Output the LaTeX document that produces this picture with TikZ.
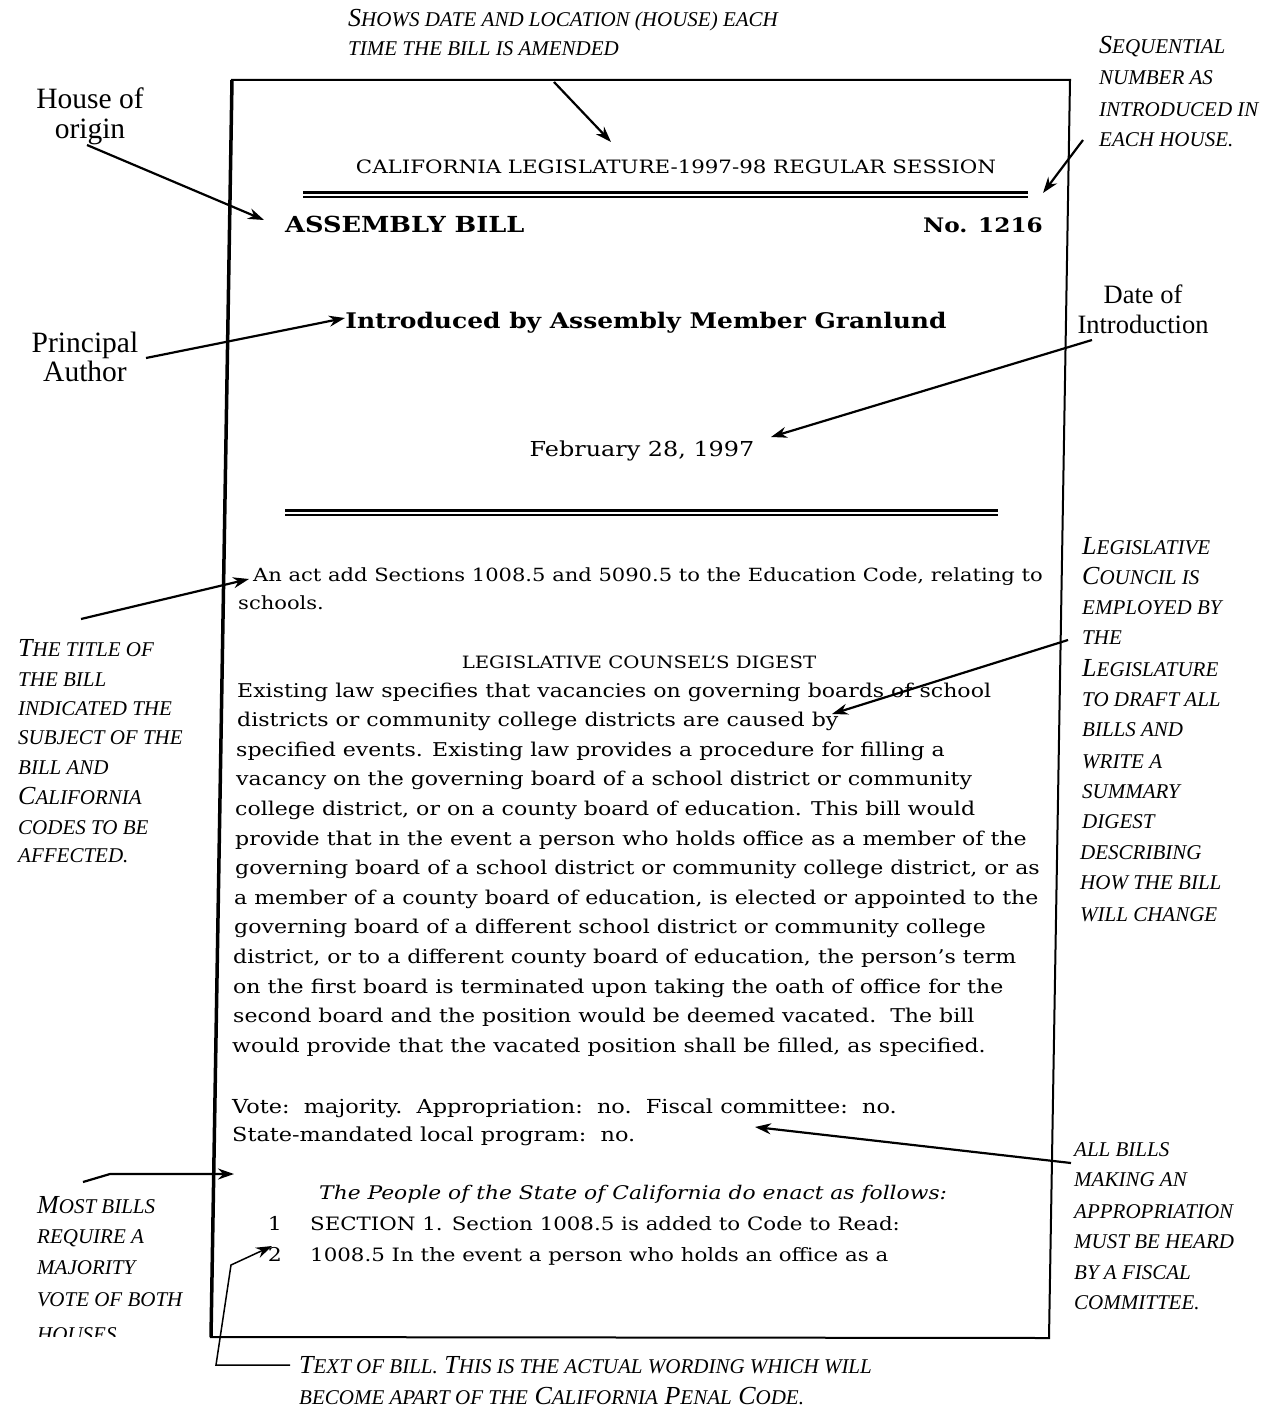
\documentclass[tikz,border=0pt]{standalone}
\usepackage{fontspec}
\setmainfont{DejaVu Serif}[FakeStretch=1.16]
\newfontfamily\labelfont{Liberation Serif}
\usetikzlibrary{arrows.meta}

% lowered capitals for the notes
\newcommand\lc[1]{{\fontsize{21}{21}\selectfont\MakeUppercase{#1}}}

\tikzset{
	note/.style={font=\labelfont\itshape\fontsize{26}{30}\selectfont, anchor=base west, inner sep=0pt},
	tag/.style={font=\labelfont\fontsize{29.5}{30}\selectfont, anchor=base, inner sep=0pt},
	bill/.style={font=\fontsize{19}{24}\selectfont, anchor=base west, inner sep=0pt},
	pointer/.style={-{Stealth[length=16pt,width=11pt]}, line width=2.2pt},
}

\begin{document}
\begin{tikzpicture}[x=1pt,y=-1pt]
	\useasboundingbox[fill=white] (0,0) rectangle (1266,1412);

	% the page of the bill
	\draw[line width=2pt] (232,80) -- (1070,80) -- (1049,1338) -- (211,1337) -- cycle;
	\draw[line width=3.5pt] (232,80) -- (211,1337);
	\node[bill, anchor=base, font=\fontsize{18.4}{22}\selectfont] (session) at (676,174) {CALIFORNIA LEGISLATURE-1997-98 REGULAR SESSION};
	\draw[line width=3pt] (303,193) -- (1028,193);
	\draw[line width=2pt] (303,197.5) -- (1028,197.5);
	\node[bill, font=\bfseries\fontsize{22.1}{26}\selectfont] (assembly) at (285,233) {ASSEMBLY BILL};
	\node[bill, anchor=base east, font=\bfseries\fontsize{20}{26}\selectfont] (number) at (1043,233) {No. 1216};
	\node[bill, anchor=base, font=\bfseries\fontsize{21.5}{26}\selectfont] (author) at (646,328) {Introduced by Assembly Member Granlund};
	\node[bill, anchor=base, font=\fontsize{20.6}{26}\selectfont] (introdate) at (642,456) {February 28, 1997};
	\draw[line width=3pt] (285,510) -- (998,510);
	\draw[line width=2pt] (285,514.5) -- (998,514.5);
	\node[bill, font=\fontsize{18.15}{24}\selectfont] (act1) at (253,581) {An act add Sections 1008.5 and 5090.5 to the Education Code, relating to};
	\node[bill, font=\fontsize{18.15}{24}\selectfont] (act2) at (238,609) {schools.};
	\node[bill, anchor=base, font=\fontsize{17}{20}\selectfont] (digest) at (639,668) {LEGISLATIVE COUNSEL’S DIGEST};
	\node[bill] (law1) at (237,697) {Existing law specifies that vacancies on governing boards of school};
	\node[bill] (law2) at (237,726.6) {districts or community college districts are caused by};
	\node[bill] (law3) at (236,756.2) {specified events. Existing law provides a procedure for filling a};
	\node[bill] (law4) at (236,785.8) {vacancy on the governing board of a school district or community};
	\node[bill] (law5) at (235,815.4) {college district, or on a county board of education. This bill would};
	\node[bill] (law6) at (235,845) {provide that in the event a person who holds office as a member of the};
	\node[bill] (law7) at (235,874.6) {governing board of a school district or community college district, or as};
	\node[bill] (law8) at (234,904.2) {a member of a county board of education, is elected or appointed to the};
	\node[bill] (law9) at (234,933.8) {governing board of a different school district or community college};
	\node[bill] (law10) at (233,963.4) {district, or to a different county board of education, the person's term};
	\node[bill] (law11) at (233,993) {on the first board is terminated upon taking the oath of office for the};
	\node[bill] (law12) at (233,1022.6) {second board and the position would be deemed vacated.\ \ The bill};
	\node[bill] (law13) at (232,1052.2) {would provide that the vacated position shall be filled, as specified.};
	\node[bill, font=\fontsize{19.3}{24}\selectfont] (vote1) at (232,1113) {Vote:\ \ majority.\ \ Appropriation:\ \ no.\ \ Fiscal committee:\ \ no.};
	\node[bill, font=\fontsize{19.3}{24}\selectfont] (vote2) at (232,1141) {State-mandated local program:\ \ no.};
	\node[bill, font=\itshape\fontsize{18.8}{24}\selectfont] (people) at (319,1199) {The People of the State of California do enact as follows:};
	\node[bill, anchor=base] (ln1) at (275,1230) {1};
	\node[bill, font=\fontsize{18.4}{24}\selectfont] (sec1) at (310,1230) {SECTION 1. Section 1008.5 is added to Code to Read:};
	\node[bill, anchor=base] (ln2) at (275,1261) {2};
	\node[bill, font=\fontsize{18.4}{24}\selectfont] (sec2) at (310,1261) {1008.5 In the event a person who holds an office as a};

	% notes round the page
	\node[note] (shows1) at (348,27) {S\lc{hows date and location (house) each}};
	\node[note] (shows2) at (348,56) {\lc{time the bill is amended}};
	\node[note] (seq1) at (1099,54) {S\lc{equential}};
	\node[note] (seq2) at (1099,85) {\lc{number as}};
	\node[note] (seq3) at (1099,117) {\lc{introduced in}};
	\node[note] (seq4) at (1099,147) {\lc{each house.}};
	\node[tag] (house1) at (90,109) {House of};
	\node[tag] (house2) at (90,139) {origin};
	\node[tag] (princ1) at (85,352) {Principal};
	\node[tag] (princ2) at (85,381) {Author};
	\node[tag, font=\labelfont\fontsize{26.5}{30}\selectfont] (date1) at (1143,304) {Date of};
	\node[tag, font=\labelfont\fontsize{26.5}{30}\selectfont] (date2) at (1143,334) {Introduction};
	\node[note] (title1) at (18,656) {T\lc{he title of}};
	\node[note] (title2) at (18,686) {\lc{the bill}};
	\node[note] (title3) at (18,715) {\lc{indicated the}};
	\node[note] (title4) at (18,744) {\lc{subject of the}};
	\node[note] (title5) at (18,774) {\lc{bill and}};
	\node[note] (title6) at (18,804) {C\lc{alifornia}};
	\node[note] (title7) at (18,834) {\lc{codes to be}};
	\node[note] (title8) at (18,862) {\lc{affected.}};
	\node[note] (counc1) at (1082,554) {L\lc{egislative}};
	\node[note] (counc2) at (1082,584) {C\lc{ouncil is}};
	\node[note] (counc3) at (1082,614) {\lc{employed by}};
	\node[note] (counc4) at (1082,644) {\lc{the}};
	\node[note] (counc5) at (1082,676) {L\lc{egislature}};
	\node[note] (counc6) at (1082,706) {\lc{to draft all}};
	\node[note] (counc7) at (1082,736) {\lc{bills and}};
	\node[note] (counc8) at (1082,768) {\lc{write a}};
	\node[note] (counc9) at (1082,798) {\lc{summary}};
	\node[note] (counc10) at (1082,828) {\lc{digest}};
	\node[note] (counc11) at (1080,859) {\lc{describing}};
	\node[note] (counc12) at (1080,889) {\lc{how the bill}};
	\node[note] (counc13) at (1080,921) {\lc{will change}};
	\node[note] (allb1) at (1074,1156) {\lc{all bills}};
	\node[note] (allb2) at (1074,1186) {\lc{making an}};
	\node[note] (allb3) at (1074,1218) {\lc{appropriation}};
	\node[note] (allb4) at (1074,1248) {\lc{must be heard}};
	\node[note] (allb5) at (1074,1279) {\lc{by a fiscal}};
	\node[note] (allb6) at (1074,1309) {\lc{committee.}};
	\node[note] (most1) at (37,1213) {M\lc{ost bills}};
	\node[note] (most2) at (37,1243) {\lc{require a}};
	\node[note] (most3) at (37,1274) {\lc{majority}};
	\node[note] (most4) at (37,1306) {\lc{vote of both}};
	\begin{scope}
		\clip (0,1310) rectangle (209,1336);
		\node[note] (most5) at (37,1341) {\lc{houses}};
	\end{scope}
	\node[note] (textb1) at (299,1373) {T\lc{ext of bill.} T\lc{his is the actual wording which will}};
	\node[note] (textb2) at (299,1404) {\lc{become apart of the} C\lc{alifornia} P\lc{enal} C\lc{ode.}};

	% pointers
	\coordinate (showsTail) at (554,82);
	\coordinate (showsTip) at (611,142);
	\coordinate (seqTail) at (1083,140);
	\coordinate (seqTip) at (1043,193);
	\coordinate (houseTail) at (87,145);
	\coordinate (houseTip) at (264,220);
	\coordinate (princTail) at (146,358);
	\coordinate (princTip) at (345,318);
	\coordinate (dateTail) at (1092,340);
	\coordinate (dateTip) at (771,437);
	\coordinate (titleTail) at (81,619);
	\coordinate (titleTip) at (249,579);
	\coordinate (councTail) at (1068,640);
	\coordinate (councTip) at (832,714);
	\coordinate (allbTail) at (1071,1163);
	\coordinate (allbTip) at (755,1127);
	\coordinate (mostTail) at (83,1182);
	\coordinate (mostBend) at (110,1174);
	\coordinate (mostTip) at (234,1174);
	\coordinate (textbTail) at (290,1365);
	\coordinate (textbCorner) at (216,1365);
	\coordinate (textbBend) at (231,1265);
	\coordinate (textbTip) at (272,1246);
	\draw[pointer] (showsTail) -- (showsTip);
	\draw[pointer] (seqTail) -- (seqTip);
	\draw[pointer] (houseTail) -- (houseTip);
	\draw[pointer] (princTail) -- (princTip);
	\draw[pointer] (dateTail) -- (dateTip);
	\draw[pointer] (titleTail) -- (titleTip);
	\draw[pointer] (councTail) -- (councTip);
	\draw[pointer] (allbTail) -- (allbTip);
	\draw[pointer] (mostTail) -- (mostBend) -- (mostTip);
	\draw[pointer, line width=1.5pt] (textbTail) -- (textbCorner) -- (textbBend) -- (textbTip);
\end{tikzpicture}
\end{document}
